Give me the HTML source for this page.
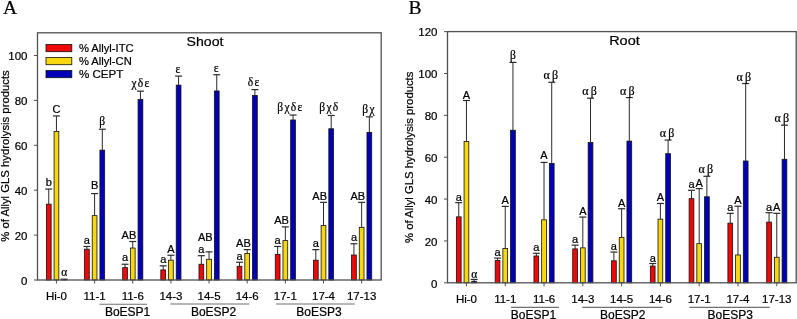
<!DOCTYPE html>
<html><head><meta charset="utf-8"><style>
html,body{margin:0;padding:0;background:#fff;overflow:hidden}
svg{display:block;will-change:transform}
text{stroke:#000;stroke-width:0.22px;stroke-linejoin:round}
.t{font-family:"Liberation Sans",sans-serif;font-size:11.5px;fill:#000}
.yl{font-family:"Liberation Sans",sans-serif;font-size:11.3px;fill:#000}
.lg{font-family:"Liberation Sans",sans-serif;font-size:11.2px;fill:#000}
.gl{font-family:"Liberation Sans",sans-serif;font-size:12px;fill:#000}
.g2{font-family:"Liberation Serif",serif;font-size:12px;fill:#000}
.l{font-family:"Liberation Sans",sans-serif;font-size:11px;fill:#000}
.g{font-family:"Liberation Serif",serif;font-size:11.5px;letter-spacing:1.4px;fill:#000}
.ti{font-family:"Liberation Sans",sans-serif;font-size:13.2px;fill:#000}
.big{font-family:"Liberation Serif",serif;font-size:19.6px;fill:#000}
</style></head><body>
<svg width="797" height="319" viewBox="0 0 797 319">
<rect width="797" height="319" fill="#fff"/>
<text x="2.9" y="14" class="big">A</text><text x="408.6" y="14" class="big">B</text>
<line x1="48.75" y1="204.15" x2="48.75" y2="189.08" stroke="#2a2a2a" stroke-width="1"/>
<line x1="45.25" y1="189.08" x2="52.25" y2="189.08" stroke="#2a2a2a" stroke-width="1.2"/>
<rect x="46.38" y="204.15" width="4.75" height="75.85" fill="#ee0808" stroke="#111" stroke-width="0.8"/>
<text x="48.75" y="185.88" text-anchor="middle" class="l">b</text>
<line x1="56.45" y1="131.46" x2="56.45" y2="115.93" stroke="#2a2a2a" stroke-width="1"/>
<line x1="52.95" y1="115.93" x2="59.95" y2="115.93" stroke="#2a2a2a" stroke-width="1.2"/>
<rect x="54.08" y="131.46" width="4.75" height="148.54" fill="#f7d810" stroke="#111" stroke-width="0.8"/>
<text x="56.45" y="113.33" text-anchor="middle" class="l">C</text>
<line x1="64.15" y1="279.77" x2="64.15" y2="279.21" stroke="#2a2a2a" stroke-width="1"/>
<line x1="60.65" y1="279.21" x2="67.65" y2="279.21" stroke="#2a2a2a" stroke-width="1.2"/>
<rect x="61.78" y="279.77" width="4.75" height="0.23" fill="#0000b8" stroke="#111" stroke-width="0.8"/>
<text x="64.85" y="276.01" text-anchor="middle" class="g">α</text>
<line x1="56.45" y1="280" x2="56.45" y2="283.5" stroke="#505050" stroke-width="1"/>
<text x="56.45" y="300" text-anchor="middle" class="t">Hi-0</text>
<line x1="86.9" y1="249.17" x2="86.9" y2="246.47" stroke="#2a2a2a" stroke-width="1"/>
<line x1="83.4" y1="246.47" x2="90.4" y2="246.47" stroke="#2a2a2a" stroke-width="1.2"/>
<rect x="84.52" y="249.17" width="4.75" height="30.83" fill="#ee0808" stroke="#111" stroke-width="0.8"/>
<text x="86.9" y="243.87" text-anchor="middle" class="l">a</text>
<line x1="94.6" y1="215.63" x2="94.6" y2="193.58" stroke="#2a2a2a" stroke-width="1"/>
<line x1="91.1" y1="193.58" x2="98.1" y2="193.58" stroke="#2a2a2a" stroke-width="1.2"/>
<rect x="92.22" y="215.63" width="4.75" height="64.37" fill="#f7d810" stroke="#111" stroke-width="0.8"/>
<text x="94.6" y="189.48" text-anchor="middle" class="l">B</text>
<line x1="102.3" y1="150.14" x2="102.3" y2="129.21" stroke="#2a2a2a" stroke-width="1"/>
<line x1="98.8" y1="129.21" x2="105.8" y2="129.21" stroke="#2a2a2a" stroke-width="1.2"/>
<rect x="99.92" y="150.14" width="4.75" height="129.86" fill="#0000b8" stroke="#111" stroke-width="0.8"/>
<text x="103" y="124.91" text-anchor="middle" class="g">β</text>
<line x1="94.6" y1="280" x2="94.6" y2="283.5" stroke="#505050" stroke-width="1"/>
<text x="94.6" y="300" text-anchor="middle" class="t">11-1</text>
<line x1="125.05" y1="267.62" x2="125.05" y2="264.25" stroke="#2a2a2a" stroke-width="1"/>
<line x1="121.55" y1="264.25" x2="128.55" y2="264.25" stroke="#2a2a2a" stroke-width="1.2"/>
<rect x="122.67" y="267.62" width="4.75" height="12.38" fill="#ee0808" stroke="#111" stroke-width="0.8"/>
<text x="125.05" y="261.05" text-anchor="middle" class="l">a</text>
<line x1="132.75" y1="248.04" x2="132.75" y2="241.51" stroke="#2a2a2a" stroke-width="1"/>
<line x1="129.25" y1="241.51" x2="136.25" y2="241.51" stroke="#2a2a2a" stroke-width="1.2"/>
<rect x="130.38" y="248.04" width="4.75" height="31.96" fill="#f7d810" stroke="#111" stroke-width="0.8"/>
<text x="128.95" y="238.91" text-anchor="middle" class="l">AB</text>
<line x1="140.45" y1="99.5" x2="140.45" y2="91.17" stroke="#2a2a2a" stroke-width="1"/>
<line x1="136.95" y1="91.17" x2="143.95" y2="91.17" stroke="#2a2a2a" stroke-width="1.2"/>
<rect x="138.07" y="99.5" width="4.75" height="180.5" fill="#0000b8" stroke="#111" stroke-width="0.8"/>
<text x="141.15" y="86.87" text-anchor="middle" class="g">χδε</text>
<line x1="132.75" y1="280" x2="132.75" y2="283.5" stroke="#505050" stroke-width="1"/>
<text x="132.75" y="300" text-anchor="middle" class="t">11-6</text>
<line x1="163.2" y1="269.87" x2="163.2" y2="265.82" stroke="#2a2a2a" stroke-width="1"/>
<line x1="159.7" y1="265.82" x2="166.7" y2="265.82" stroke="#2a2a2a" stroke-width="1.2"/>
<rect x="160.82" y="269.87" width="4.75" height="10.13" fill="#ee0808" stroke="#111" stroke-width="0.8"/>
<text x="163.2" y="263.22" text-anchor="middle" class="l">a</text>
<line x1="170.9" y1="260.19" x2="170.9" y2="255.24" stroke="#2a2a2a" stroke-width="1"/>
<line x1="167.4" y1="255.24" x2="174.4" y2="255.24" stroke="#2a2a2a" stroke-width="1.2"/>
<rect x="168.52" y="260.19" width="4.75" height="19.81" fill="#f7d810" stroke="#111" stroke-width="0.8"/>
<text x="170.9" y="252.64" text-anchor="middle" class="l">A</text>
<line x1="178.6" y1="85.1" x2="178.6" y2="76.09" stroke="#2a2a2a" stroke-width="1"/>
<line x1="175.1" y1="76.09" x2="182.1" y2="76.09" stroke="#2a2a2a" stroke-width="1.2"/>
<rect x="176.22" y="85.1" width="4.75" height="194.9" fill="#0000b8" stroke="#111" stroke-width="0.8"/>
<text x="178.6" y="72.89" text-anchor="middle" class="g">ε</text>
<line x1="170.9" y1="280" x2="170.9" y2="283.5" stroke="#505050" stroke-width="1"/>
<text x="170.9" y="300" text-anchor="middle" class="t">14-3</text>
<line x1="201.35" y1="264.25" x2="201.35" y2="255.69" stroke="#2a2a2a" stroke-width="1"/>
<line x1="197.85" y1="255.69" x2="204.85" y2="255.69" stroke="#2a2a2a" stroke-width="1.2"/>
<rect x="198.98" y="264.25" width="4.75" height="15.75" fill="#ee0808" stroke="#111" stroke-width="0.8"/>
<text x="201.35" y="253.09" text-anchor="middle" class="l">a</text>
<line x1="209.05" y1="259.29" x2="209.05" y2="251.87" stroke="#2a2a2a" stroke-width="1"/>
<line x1="205.55" y1="251.87" x2="212.55" y2="251.87" stroke="#2a2a2a" stroke-width="1.2"/>
<rect x="206.68" y="259.29" width="4.75" height="20.71" fill="#f7d810" stroke="#111" stroke-width="0.8"/>
<text x="205.25" y="241.37" text-anchor="middle" class="l">AB</text>
<line x1="216.75" y1="90.95" x2="216.75" y2="74.74" stroke="#2a2a2a" stroke-width="1"/>
<line x1="213.25" y1="74.74" x2="220.25" y2="74.74" stroke="#2a2a2a" stroke-width="1.2"/>
<rect x="214.38" y="90.95" width="4.75" height="189.05" fill="#0000b8" stroke="#111" stroke-width="0.8"/>
<text x="216.75" y="71.54" text-anchor="middle" class="g">ε</text>
<line x1="209.05" y1="280" x2="209.05" y2="283.5" stroke="#505050" stroke-width="1"/>
<text x="209.05" y="300" text-anchor="middle" class="t">14-5</text>
<line x1="239.5" y1="266.27" x2="239.5" y2="262.22" stroke="#2a2a2a" stroke-width="1"/>
<line x1="236" y1="262.22" x2="243" y2="262.22" stroke="#2a2a2a" stroke-width="1.2"/>
<rect x="237.12" y="266.27" width="4.75" height="13.73" fill="#ee0808" stroke="#111" stroke-width="0.8"/>
<text x="239.5" y="259.62" text-anchor="middle" class="l">a</text>
<line x1="247.2" y1="253.44" x2="247.2" y2="249.62" stroke="#2a2a2a" stroke-width="1"/>
<line x1="243.7" y1="249.62" x2="250.7" y2="249.62" stroke="#2a2a2a" stroke-width="1.2"/>
<rect x="244.82" y="253.44" width="4.75" height="26.56" fill="#f7d810" stroke="#111" stroke-width="0.8"/>
<text x="243.4" y="247.02" text-anchor="middle" class="l">AB</text>
<line x1="254.9" y1="95.45" x2="254.9" y2="89.6" stroke="#2a2a2a" stroke-width="1"/>
<line x1="251.4" y1="89.6" x2="258.4" y2="89.6" stroke="#2a2a2a" stroke-width="1.2"/>
<rect x="252.52" y="95.45" width="4.75" height="184.55" fill="#0000b8" stroke="#111" stroke-width="0.8"/>
<text x="254.3" y="86.4" text-anchor="middle" class="g">δε</text>
<line x1="247.2" y1="280" x2="247.2" y2="283.5" stroke="#505050" stroke-width="1"/>
<text x="247.2" y="300" text-anchor="middle" class="t">14-6</text>
<line x1="277.65" y1="254.34" x2="277.65" y2="246.47" stroke="#2a2a2a" stroke-width="1"/>
<line x1="274.15" y1="246.47" x2="281.15" y2="246.47" stroke="#2a2a2a" stroke-width="1.2"/>
<rect x="275.27" y="254.34" width="4.75" height="25.66" fill="#ee0808" stroke="#111" stroke-width="0.8"/>
<text x="277.65" y="243.87" text-anchor="middle" class="l">a</text>
<line x1="285.35" y1="240.61" x2="285.35" y2="226.89" stroke="#2a2a2a" stroke-width="1"/>
<line x1="281.85" y1="226.89" x2="288.85" y2="226.89" stroke="#2a2a2a" stroke-width="1.2"/>
<rect x="282.97" y="240.61" width="4.75" height="39.39" fill="#f7d810" stroke="#111" stroke-width="0.8"/>
<text x="281.55" y="224.29" text-anchor="middle" class="l">AB</text>
<line x1="293.05" y1="119.98" x2="293.05" y2="115.03" stroke="#2a2a2a" stroke-width="1"/>
<line x1="289.55" y1="115.03" x2="296.55" y2="115.03" stroke="#2a2a2a" stroke-width="1.2"/>
<rect x="290.67" y="119.98" width="4.75" height="160.02" fill="#0000b8" stroke="#111" stroke-width="0.8"/>
<text x="290.45" y="110.73" text-anchor="middle" class="g">βχδε</text>
<line x1="285.35" y1="280" x2="285.35" y2="283.5" stroke="#505050" stroke-width="1"/>
<text x="285.35" y="300" text-anchor="middle" class="t">17-1</text>
<line x1="315.8" y1="260.19" x2="315.8" y2="249.62" stroke="#2a2a2a" stroke-width="1"/>
<line x1="312.3" y1="249.62" x2="319.3" y2="249.62" stroke="#2a2a2a" stroke-width="1.2"/>
<rect x="313.43" y="260.19" width="4.75" height="19.81" fill="#ee0808" stroke="#111" stroke-width="0.8"/>
<text x="315.8" y="247.02" text-anchor="middle" class="l">a</text>
<line x1="323.5" y1="225.54" x2="323.5" y2="202.35" stroke="#2a2a2a" stroke-width="1"/>
<line x1="320" y1="202.35" x2="327" y2="202.35" stroke="#2a2a2a" stroke-width="1.2"/>
<rect x="321.12" y="225.54" width="4.75" height="54.46" fill="#f7d810" stroke="#111" stroke-width="0.8"/>
<text x="319.7" y="199.75" text-anchor="middle" class="l">AB</text>
<line x1="331.2" y1="128.76" x2="331.2" y2="115.48" stroke="#2a2a2a" stroke-width="1"/>
<line x1="327.7" y1="115.48" x2="334.7" y2="115.48" stroke="#2a2a2a" stroke-width="1.2"/>
<rect x="328.82" y="128.76" width="4.75" height="151.24" fill="#0000b8" stroke="#111" stroke-width="0.8"/>
<text x="329.3" y="111.18" text-anchor="middle" class="g">βχδ</text>
<line x1="323.5" y1="280" x2="323.5" y2="283.5" stroke="#505050" stroke-width="1"/>
<text x="323.5" y="300" text-anchor="middle" class="t">17-4</text>
<line x1="353.95" y1="255.02" x2="353.95" y2="243.77" stroke="#2a2a2a" stroke-width="1"/>
<line x1="350.45" y1="243.77" x2="357.45" y2="243.77" stroke="#2a2a2a" stroke-width="1.2"/>
<rect x="351.57" y="255.02" width="4.75" height="24.98" fill="#ee0808" stroke="#111" stroke-width="0.8"/>
<text x="353.95" y="241.17" text-anchor="middle" class="l">a</text>
<line x1="361.65" y1="227.34" x2="361.65" y2="202.35" stroke="#2a2a2a" stroke-width="1"/>
<line x1="358.15" y1="202.35" x2="365.15" y2="202.35" stroke="#2a2a2a" stroke-width="1.2"/>
<rect x="359.27" y="227.34" width="4.75" height="52.66" fill="#f7d810" stroke="#111" stroke-width="0.8"/>
<text x="357.85" y="199.75" text-anchor="middle" class="l">AB</text>
<line x1="369.35" y1="132.36" x2="369.35" y2="116.83" stroke="#2a2a2a" stroke-width="1"/>
<line x1="365.85" y1="116.83" x2="372.85" y2="116.83" stroke="#2a2a2a" stroke-width="1.2"/>
<rect x="366.97" y="132.36" width="4.75" height="147.64" fill="#0000b8" stroke="#111" stroke-width="0.8"/>
<text x="369.05" y="112.53" text-anchor="middle" class="g">βχ</text>
<line x1="361.65" y1="280" x2="361.65" y2="283.5" stroke="#505050" stroke-width="1"/>
<text x="361.65" y="300" text-anchor="middle" class="t">17-13</text>
<rect x="37.5" y="32.8" width="343.7" height="247.2" fill="none" stroke="#505050" stroke-width="1.3"/>
<line x1="34" y1="280" x2="37.5" y2="280" stroke="#505050" stroke-width="1"/>
<text x="27.5" y="284.8" text-anchor="end" class="t">0</text>
<line x1="34" y1="235.1" x2="37.5" y2="235.1" stroke="#505050" stroke-width="1"/>
<text x="27.5" y="239.9" text-anchor="end" class="t">20</text>
<line x1="34" y1="190.2" x2="37.5" y2="190.2" stroke="#505050" stroke-width="1"/>
<text x="27.5" y="195" text-anchor="end" class="t">40</text>
<line x1="34" y1="145.3" x2="37.5" y2="145.3" stroke="#505050" stroke-width="1"/>
<text x="27.5" y="150.1" text-anchor="end" class="t">60</text>
<line x1="34" y1="100.4" x2="37.5" y2="100.4" stroke="#505050" stroke-width="1"/>
<text x="27.5" y="105.2" text-anchor="end" class="t">80</text>
<line x1="34" y1="55.5" x2="37.5" y2="55.5" stroke="#505050" stroke-width="1"/>
<text x="27.5" y="60.3" text-anchor="end" class="t">100</text>
<line x1="99.5" y1="304.2" x2="147.2" y2="304.2" stroke="#707070" stroke-width="1.1"/>
<text x="127.6" y="315.9" text-anchor="middle" class="gl">BoESP1</text>
<line x1="170.3" y1="304" x2="249.3" y2="304" stroke="#707070" stroke-width="1.1"/>
<text x="213.6" y="315.9" text-anchor="middle" class="gl">BoESP2</text>
<line x1="276" y1="304" x2="354.7" y2="304" stroke="#707070" stroke-width="1.1"/>
<text x="319" y="315.9" text-anchor="middle" class="gl">BoESP3</text>
<text x="186.6" y="46.2" class="ti" textLength="36.9" lengthAdjust="spacingAndGlyphs">Shoot</text>
<text transform="translate(9,156) rotate(-90)" text-anchor="middle" class="yl">% of Allyl GLS hydrolysis products</text>
<line x1="458.75" y1="216.87" x2="458.75" y2="202.64" stroke="#2a2a2a" stroke-width="1"/>
<line x1="455.25" y1="202.64" x2="462.25" y2="202.64" stroke="#2a2a2a" stroke-width="1.2"/>
<rect x="456.38" y="216.87" width="4.75" height="65.93" fill="#ee0808" stroke="#111" stroke-width="0.8"/>
<text x="458.75" y="200.94" text-anchor="middle" class="l">a</text>
<line x1="466.45" y1="141.52" x2="466.45" y2="100.5" stroke="#2a2a2a" stroke-width="1"/>
<line x1="462.95" y1="100.5" x2="469.95" y2="100.5" stroke="#2a2a2a" stroke-width="1.2"/>
<rect x="464.07" y="141.52" width="4.75" height="141.28" fill="#f7d810" stroke="#111" stroke-width="0.8"/>
<text x="466.45" y="98.5" text-anchor="middle" class="l">A</text>
<line x1="474.15" y1="281.33" x2="474.15" y2="279.45" stroke="#2a2a2a" stroke-width="1"/>
<line x1="470.65" y1="279.45" x2="477.65" y2="279.45" stroke="#2a2a2a" stroke-width="1.2"/>
<rect x="471.77" y="281.33" width="4.75" height="1.47" fill="#0000b8" stroke="#111" stroke-width="0.8"/>
<text x="474.85" y="277.55" text-anchor="middle" class="g">α</text>
<line x1="466.45" y1="282.8" x2="466.45" y2="286.3" stroke="#505050" stroke-width="1"/>
<text x="466.45" y="303.3" text-anchor="middle" class="t">Hi-0</text>
<line x1="497.54" y1="260.4" x2="497.54" y2="258.1" stroke="#2a2a2a" stroke-width="1"/>
<line x1="494.04" y1="258.1" x2="501.04" y2="258.1" stroke="#2a2a2a" stroke-width="1.2"/>
<rect x="495.17" y="260.4" width="4.75" height="22.4" fill="#ee0808" stroke="#111" stroke-width="0.8"/>
<text x="497.54" y="256.1" text-anchor="middle" class="l">a</text>
<line x1="505.24" y1="248.47" x2="505.24" y2="206.41" stroke="#2a2a2a" stroke-width="1"/>
<line x1="501.74" y1="206.41" x2="508.74" y2="206.41" stroke="#2a2a2a" stroke-width="1.2"/>
<rect x="502.87" y="248.47" width="4.75" height="34.33" fill="#f7d810" stroke="#111" stroke-width="0.8"/>
<text x="505.24" y="204.41" text-anchor="middle" class="l">A</text>
<line x1="512.94" y1="130.22" x2="512.94" y2="62.41" stroke="#2a2a2a" stroke-width="1"/>
<line x1="509.44" y1="62.41" x2="516.44" y2="62.41" stroke="#2a2a2a" stroke-width="1.2"/>
<rect x="510.57" y="130.22" width="4.75" height="152.58" fill="#0000b8" stroke="#111" stroke-width="0.8"/>
<text x="513.64" y="59.41" text-anchor="middle" class="g">β</text>
<line x1="505.24" y1="282.8" x2="505.24" y2="286.3" stroke="#505050" stroke-width="1"/>
<text x="505.24" y="303.3" text-anchor="middle" class="t">11-1</text>
<line x1="536.33" y1="256.01" x2="536.33" y2="253.29" stroke="#2a2a2a" stroke-width="1"/>
<line x1="532.83" y1="253.29" x2="539.83" y2="253.29" stroke="#2a2a2a" stroke-width="1.2"/>
<rect x="533.95" y="256.01" width="4.75" height="26.79" fill="#ee0808" stroke="#111" stroke-width="0.8"/>
<text x="536.33" y="251.29" text-anchor="middle" class="l">a</text>
<line x1="544.03" y1="219.8" x2="544.03" y2="162.45" stroke="#2a2a2a" stroke-width="1"/>
<line x1="540.53" y1="162.45" x2="547.53" y2="162.45" stroke="#2a2a2a" stroke-width="1.2"/>
<rect x="541.65" y="219.8" width="4.75" height="63" fill="#f7d810" stroke="#111" stroke-width="0.8"/>
<text x="544.03" y="159.25" text-anchor="middle" class="l">A</text>
<line x1="551.73" y1="163.5" x2="551.73" y2="82.29" stroke="#2a2a2a" stroke-width="1"/>
<line x1="548.23" y1="82.29" x2="555.23" y2="82.29" stroke="#2a2a2a" stroke-width="1.2"/>
<rect x="549.36" y="163.5" width="4.75" height="119.3" fill="#0000b8" stroke="#111" stroke-width="0.8"/>
<text x="550.73" y="79.29" text-anchor="middle" class="g2" textLength="14.6" lengthAdjust="spacing">αβ</text>
<line x1="544.03" y1="282.8" x2="544.03" y2="286.3" stroke="#505050" stroke-width="1"/>
<text x="544.03" y="303.3" text-anchor="middle" class="t">11-6</text>
<line x1="575.12" y1="248.89" x2="575.12" y2="245.13" stroke="#2a2a2a" stroke-width="1"/>
<line x1="571.62" y1="245.13" x2="578.62" y2="245.13" stroke="#2a2a2a" stroke-width="1.2"/>
<rect x="572.74" y="248.89" width="4.75" height="33.91" fill="#ee0808" stroke="#111" stroke-width="0.8"/>
<text x="575.12" y="243.13" text-anchor="middle" class="l">a</text>
<line x1="582.82" y1="247.85" x2="582.82" y2="217.08" stroke="#2a2a2a" stroke-width="1"/>
<line x1="579.32" y1="217.08" x2="586.32" y2="217.08" stroke="#2a2a2a" stroke-width="1.2"/>
<rect x="580.44" y="247.85" width="4.75" height="34.95" fill="#f7d810" stroke="#111" stroke-width="0.8"/>
<text x="582.82" y="215.08" text-anchor="middle" class="l">A</text>
<line x1="590.52" y1="142.57" x2="590.52" y2="98.2" stroke="#2a2a2a" stroke-width="1"/>
<line x1="587.02" y1="98.2" x2="594.02" y2="98.2" stroke="#2a2a2a" stroke-width="1.2"/>
<rect x="588.14" y="142.57" width="4.75" height="140.23" fill="#0000b8" stroke="#111" stroke-width="0.8"/>
<text x="589.52" y="95.2" text-anchor="middle" class="g2" textLength="14.6" lengthAdjust="spacing">αβ</text>
<line x1="582.82" y1="282.8" x2="582.82" y2="286.3" stroke="#505050" stroke-width="1"/>
<text x="582.82" y="303.3" text-anchor="middle" class="t">14-3</text>
<line x1="613.91" y1="260.82" x2="613.91" y2="252.03" stroke="#2a2a2a" stroke-width="1"/>
<line x1="610.41" y1="252.03" x2="617.41" y2="252.03" stroke="#2a2a2a" stroke-width="1.2"/>
<rect x="611.53" y="260.82" width="4.75" height="21.98" fill="#ee0808" stroke="#111" stroke-width="0.8"/>
<text x="613.91" y="250.03" text-anchor="middle" class="l">a</text>
<line x1="621.61" y1="237.38" x2="621.61" y2="208.71" stroke="#2a2a2a" stroke-width="1"/>
<line x1="618.11" y1="208.71" x2="625.11" y2="208.71" stroke="#2a2a2a" stroke-width="1.2"/>
<rect x="619.24" y="237.38" width="4.75" height="45.42" fill="#f7d810" stroke="#111" stroke-width="0.8"/>
<text x="621.61" y="206.71" text-anchor="middle" class="l">A</text>
<line x1="629.31" y1="141.1" x2="629.31" y2="97.57" stroke="#2a2a2a" stroke-width="1"/>
<line x1="625.81" y1="97.57" x2="632.81" y2="97.57" stroke="#2a2a2a" stroke-width="1.2"/>
<rect x="626.94" y="141.1" width="4.75" height="141.7" fill="#0000b8" stroke="#111" stroke-width="0.8"/>
<text x="627.31" y="94.57" text-anchor="middle" class="g2" textLength="14.6" lengthAdjust="spacing">αβ</text>
<line x1="621.61" y1="282.8" x2="621.61" y2="286.3" stroke="#505050" stroke-width="1"/>
<text x="621.61" y="303.3" text-anchor="middle" class="t">14-5</text>
<line x1="652.7" y1="266.06" x2="652.7" y2="263.54" stroke="#2a2a2a" stroke-width="1"/>
<line x1="649.2" y1="263.54" x2="656.2" y2="263.54" stroke="#2a2a2a" stroke-width="1.2"/>
<rect x="650.32" y="266.06" width="4.75" height="16.74" fill="#ee0808" stroke="#111" stroke-width="0.8"/>
<text x="652.7" y="261.54" text-anchor="middle" class="l">a</text>
<line x1="660.4" y1="219.17" x2="660.4" y2="203.48" stroke="#2a2a2a" stroke-width="1"/>
<line x1="656.9" y1="203.48" x2="663.9" y2="203.48" stroke="#2a2a2a" stroke-width="1.2"/>
<rect x="658.02" y="219.17" width="4.75" height="63.63" fill="#f7d810" stroke="#111" stroke-width="0.8"/>
<text x="660.4" y="201.48" text-anchor="middle" class="l">A</text>
<line x1="668.1" y1="153.66" x2="668.1" y2="140.06" stroke="#2a2a2a" stroke-width="1"/>
<line x1="664.6" y1="140.06" x2="671.6" y2="140.06" stroke="#2a2a2a" stroke-width="1.2"/>
<rect x="665.73" y="153.66" width="4.75" height="129.14" fill="#0000b8" stroke="#111" stroke-width="0.8"/>
<text x="667.1" y="137.06" text-anchor="middle" class="g2" textLength="14.6" lengthAdjust="spacing">αβ</text>
<line x1="660.4" y1="282.8" x2="660.4" y2="286.3" stroke="#505050" stroke-width="1"/>
<text x="660.4" y="303.3" text-anchor="middle" class="t">14-6</text>
<line x1="691.49" y1="198.66" x2="691.49" y2="190.29" stroke="#2a2a2a" stroke-width="1"/>
<line x1="687.99" y1="190.29" x2="694.99" y2="190.29" stroke="#2a2a2a" stroke-width="1.2"/>
<rect x="689.12" y="198.66" width="4.75" height="84.14" fill="#ee0808" stroke="#111" stroke-width="0.8"/>
<text x="691.49" y="188.29" text-anchor="middle" class="l">a</text>
<line x1="699.19" y1="243.66" x2="699.19" y2="188.62" stroke="#2a2a2a" stroke-width="1"/>
<line x1="695.69" y1="188.62" x2="702.69" y2="188.62" stroke="#2a2a2a" stroke-width="1.2"/>
<rect x="696.82" y="243.66" width="4.75" height="39.14" fill="#f7d810" stroke="#111" stroke-width="0.8"/>
<text x="699.19" y="186.62" text-anchor="middle" class="l">A</text>
<line x1="706.89" y1="196.78" x2="706.89" y2="176.27" stroke="#2a2a2a" stroke-width="1"/>
<line x1="703.39" y1="176.27" x2="710.39" y2="176.27" stroke="#2a2a2a" stroke-width="1.2"/>
<rect x="704.52" y="196.78" width="4.75" height="86.02" fill="#0000b8" stroke="#111" stroke-width="0.8"/>
<text x="705.89" y="173.27" text-anchor="middle" class="g2" textLength="14.6" lengthAdjust="spacing">αβ</text>
<line x1="699.19" y1="282.8" x2="699.19" y2="286.3" stroke="#505050" stroke-width="1"/>
<text x="699.19" y="303.3" text-anchor="middle" class="t">17-1</text>
<line x1="730.28" y1="223.15" x2="730.28" y2="213.31" stroke="#2a2a2a" stroke-width="1"/>
<line x1="726.78" y1="213.31" x2="733.78" y2="213.31" stroke="#2a2a2a" stroke-width="1.2"/>
<rect x="727.9" y="223.15" width="4.75" height="59.65" fill="#ee0808" stroke="#111" stroke-width="0.8"/>
<text x="730.28" y="211.31" text-anchor="middle" class="l">a</text>
<line x1="737.98" y1="254.96" x2="737.98" y2="206.2" stroke="#2a2a2a" stroke-width="1"/>
<line x1="734.48" y1="206.2" x2="741.48" y2="206.2" stroke="#2a2a2a" stroke-width="1.2"/>
<rect x="735.61" y="254.96" width="4.75" height="27.84" fill="#f7d810" stroke="#111" stroke-width="0.8"/>
<text x="737.98" y="204.2" text-anchor="middle" class="l">A</text>
<line x1="745.68" y1="160.99" x2="745.68" y2="83.55" stroke="#2a2a2a" stroke-width="1"/>
<line x1="742.18" y1="83.55" x2="749.18" y2="83.55" stroke="#2a2a2a" stroke-width="1.2"/>
<rect x="743.31" y="160.99" width="4.75" height="121.81" fill="#0000b8" stroke="#111" stroke-width="0.8"/>
<text x="743.88" y="80.55" text-anchor="middle" class="g2" textLength="14.6" lengthAdjust="spacing">αβ</text>
<line x1="737.98" y1="282.8" x2="737.98" y2="286.3" stroke="#505050" stroke-width="1"/>
<text x="737.98" y="303.3" text-anchor="middle" class="t">17-4</text>
<line x1="769.07" y1="222.1" x2="769.07" y2="212.68" stroke="#2a2a2a" stroke-width="1"/>
<line x1="765.57" y1="212.68" x2="772.57" y2="212.68" stroke="#2a2a2a" stroke-width="1.2"/>
<rect x="766.69" y="222.1" width="4.75" height="60.7" fill="#ee0808" stroke="#111" stroke-width="0.8"/>
<text x="769.07" y="210.68" text-anchor="middle" class="l">a</text>
<line x1="776.77" y1="257.27" x2="776.77" y2="213.31" stroke="#2a2a2a" stroke-width="1"/>
<line x1="773.27" y1="213.31" x2="780.27" y2="213.31" stroke="#2a2a2a" stroke-width="1.2"/>
<rect x="774.39" y="257.27" width="4.75" height="25.53" fill="#f7d810" stroke="#111" stroke-width="0.8"/>
<text x="776.77" y="211.31" text-anchor="middle" class="l">A</text>
<line x1="784.47" y1="159.31" x2="784.47" y2="125.2" stroke="#2a2a2a" stroke-width="1"/>
<line x1="780.97" y1="125.2" x2="787.97" y2="125.2" stroke="#2a2a2a" stroke-width="1.2"/>
<rect x="782.1" y="159.31" width="4.75" height="123.49" fill="#0000b8" stroke="#111" stroke-width="0.8"/>
<text x="781.87" y="122.2" text-anchor="middle" class="g2" textLength="14.6" lengthAdjust="spacing">αβ</text>
<line x1="776.77" y1="282.8" x2="776.77" y2="286.3" stroke="#505050" stroke-width="1"/>
<text x="776.77" y="303.3" text-anchor="middle" class="t">17-13</text>
<rect x="447.5" y="31.6" width="348.7" height="251.2" fill="none" stroke="#505050" stroke-width="1.3"/>
<line x1="444" y1="282.8" x2="447.5" y2="282.8" stroke="#505050" stroke-width="1"/>
<text x="437.5" y="287.6" text-anchor="end" class="t">0</text>
<line x1="444" y1="240.94" x2="447.5" y2="240.94" stroke="#505050" stroke-width="1"/>
<text x="437.5" y="245.74" text-anchor="end" class="t">20</text>
<line x1="444" y1="199.08" x2="447.5" y2="199.08" stroke="#505050" stroke-width="1"/>
<text x="437.5" y="203.88" text-anchor="end" class="t">40</text>
<line x1="444" y1="157.22" x2="447.5" y2="157.22" stroke="#505050" stroke-width="1"/>
<text x="437.5" y="162.02" text-anchor="end" class="t">60</text>
<line x1="444" y1="115.36" x2="447.5" y2="115.36" stroke="#505050" stroke-width="1"/>
<text x="437.5" y="120.16" text-anchor="end" class="t">80</text>
<line x1="444" y1="73.5" x2="447.5" y2="73.5" stroke="#505050" stroke-width="1"/>
<text x="437.5" y="78.3" text-anchor="end" class="t">100</text>
<line x1="444" y1="31.64" x2="447.5" y2="31.64" stroke="#505050" stroke-width="1"/>
<text x="437.5" y="36.44" text-anchor="end" class="t">120</text>
<line x1="511" y1="307.4" x2="559" y2="307.4" stroke="#707070" stroke-width="1.1"/>
<text x="533.5" y="318.5" text-anchor="middle" class="gl">BoESP1</text>
<line x1="582.3" y1="307.4" x2="662.6" y2="307.4" stroke="#707070" stroke-width="1.1"/>
<text x="622.7" y="318.5" text-anchor="middle" class="gl">BoESP2</text>
<line x1="689.4" y1="307.4" x2="769.7" y2="307.4" stroke="#707070" stroke-width="1.1"/>
<text x="730.2" y="318.5" text-anchor="middle" class="gl">BoESP3</text>
<text x="609.2" y="45.1" class="ti" textLength="30.5" lengthAdjust="spacingAndGlyphs">Root</text>
<text transform="translate(412.5,157.3) rotate(-90)" text-anchor="middle" class="yl">% of Allyl GLS hydrolysis products</text>
<rect x="46" y="44.5" width="25.8" height="7.2" fill="#ee0808" stroke="#111" stroke-width="0.8"/>
<text x="78.9" y="52.2" class="lg">% Allyl-ITC</text>
<rect x="46" y="57.5" width="25.8" height="7.2" fill="#f7d810" stroke="#111" stroke-width="0.8"/>
<text x="78.9" y="65.2" class="lg">% Allyl-CN</text>
<rect x="46" y="70.5" width="25.8" height="7.2" fill="#0000b8" stroke="#111" stroke-width="0.8"/>
<text x="78.9" y="78.2" class="lg" textLength="44.4" lengthAdjust="spacingAndGlyphs">% CEPT</text>
</svg>
</body></html>
